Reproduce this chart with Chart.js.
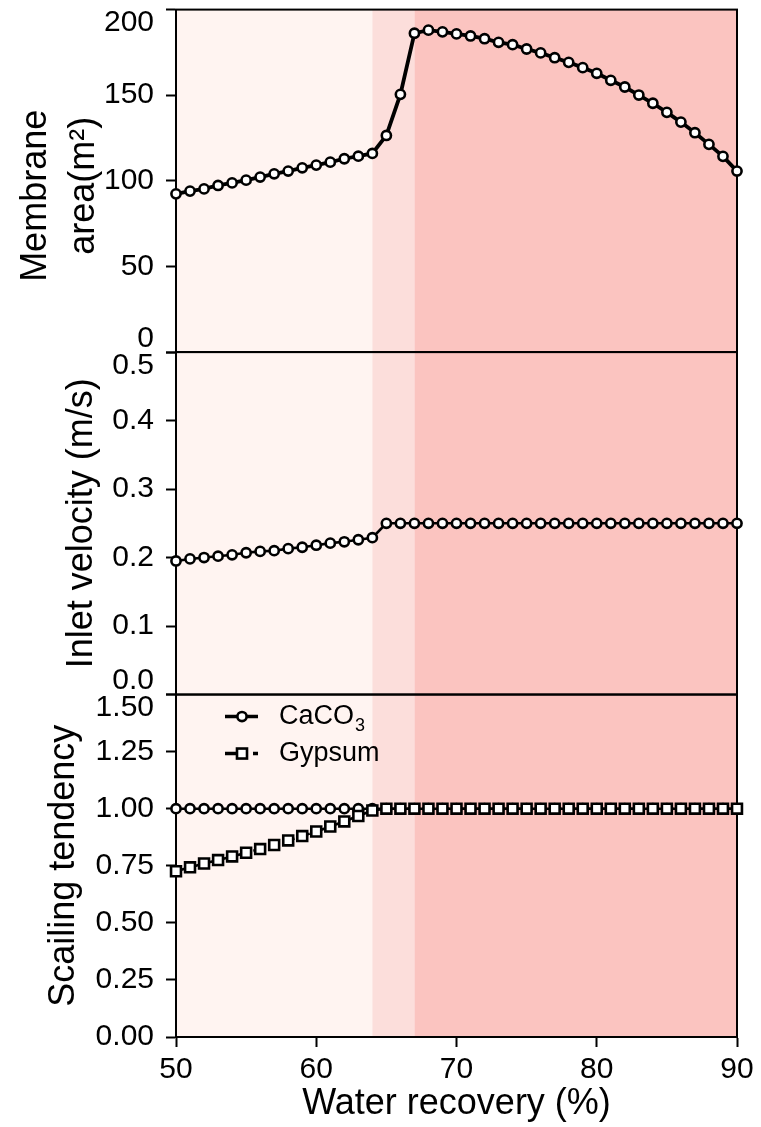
<!DOCTYPE html>
<html>
<head>
<meta charset="utf-8">
<script src="https://cdn.jsdelivr.net/npm/chart.js@4.4.1/dist/chart.umd.min.js"></script>
<style>
  html, body { margin: 0; padding: 0; background: #fff; }
  canvas { display: block; }
</style>
</head>
<body>
<canvas id="graficoRecuperacion" width="761" height="1127"></canvas>
<script>
// datos
const recuperacion = [50, 51, 52, 53, 54, 55, 56, 57, 58, 59, 60, 61, 62, 63, 64, 65, 66, 67, 68, 69, 70,
  71, 72, 73, 74, 75, 76, 77, 78, 79, 80, 81, 82, 83, 84, 85, 86, 87, 88, 89, 90];

const areaMembrana = [92.4, 94.0, 95.3, 97.3, 98.8, 100.4, 102.2, 104.1, 105.7, 107.6, 109.2, 110.9, 112.9, 114.4, 116.0,
  126.5, 150.5, 186.2, 188.0, 187.0, 185.8, 184.6, 183.0, 180.9, 179.5, 177.0, 174.7, 171.9, 169.2, 166.1,
  162.8, 158.7, 154.8, 150.1, 145.3, 140.0, 134.3, 128.1, 121.3, 114.3, 105.7];

const velocidadEntrada = [0.195, 0.198, 0.200, 0.202, 0.204, 0.207, 0.209, 0.210, 0.213, 0.215, 0.218, 0.221, 0.223, 0.226, 0.229,
  0.25, 0.25, 0.25, 0.25, 0.25, 0.25, 0.25, 0.25, 0.25, 0.25, 0.25, 0.25, 0.25, 0.25, 0.25,
  0.25, 0.25, 0.25, 0.25, 0.25, 0.25, 0.25, 0.25, 0.25, 0.25, 0.25];

const tendenciaCaCO3 = [1, 1, 1, 1, 1, 1, 1, 1, 1, 1, 1, 1, 1, 1, 1, 1, 1, 1, 1, 1, 1,
  1, 1, 1, 1, 1, 1, 1, 1, 1, 1, 1, 1, 1, 1, 1, 1, 1, 1, 1, 1];

const tendenciaYeso = [0.726, 0.743, 0.760, 0.775, 0.791, 0.807, 0.823, 0.841, 0.861, 0.880, 0.900, 0.922, 0.944, 0.968, 0.992,
  1, 1, 1, 1, 1, 1, 1, 1, 1, 1, 1, 1, 1, 1, 1,
  1, 1, 1, 1, 1, 1, 1, 1, 1, 1, 1];

// limites de las zonas sombreadas (recuperacion %)
const limitesZonas = [50, 64, 67, 90];

// ticks de cada eje
const ticksX = [50, 60, 70, 80, 90];
const ticksArea = [0, 50, 100, 150, 200];
const ticksVelocidad = [0, 0.1, 0.2, 0.3, 0.4, 0.5];
const ticksTendencia = [0, 0.25, 0.5, 0.75, 1, 1.25, 1.5];

const coloresZonas = ["#fff4f1", "#fcdedb", "#fbc4c0"];
const ANCHO_EJE_Y = 176;
const FUENTE = "'Liberation Sans', Arial, sans-serif";

Chart.defaults.font.family = FUENTE;
Chart.defaults.color = "#000";

const puntos = valores => recuperacion.map((x, i) => ({ x, y: valores[i] }));

function ejeY(ticks, decimales, titulo, paddingTitulo, moverMinimo) {
  return {
    type: "linear",
    position: "left",
    stack: "paneles",
    stackWeight: 1,
    min: ticks[0],
    max: ticks[ticks.length - 1],
    afterBuildTicks: eje => { eje.ticks = ticks.map(v => ({ value: v })); },
    afterFit: eje => {
      eje.width = ANCHO_EJE_Y;
      eje.paddingTop = 0;
      eje.paddingBottom = 0;
    },
    border: { display: true, color: "#000", width: 2 },
    grid: { drawOnChartArea: false, drawTicks: true, tickLength: 10, tickWidth: 2, tickColor: "#000" },
    ticks: {
      autoSkip: false,
      padding: 12,
      color: "#000",
      font: { size: 30, lineHeight: 0.9 },
      callback: v => {
        const txt = v.toFixed(decimales);
        // como en la figura: la etiqueta de arriba baja y la de abajo sube
        if (v === ticks[ticks.length - 1]) return ["", txt];
        if (v === ticks[0] && moverMinimo) return [txt, ""];
        return txt;
      }
    },
    title: {
      display: true,
      text: titulo,
      color: "#000",
      font: { size: 36, lineHeight: 1.33 },
      padding: { top: paddingTitulo, bottom: 0 }
    }
  };
}

// zonas de fondo
const zonasFondo = {
  id: "zonasFondo",
  beforeDraw(chart) {
    const { ctx, chartArea, scales } = chart;
    ctx.save();
    for (let i = 0; i < limitesZonas.length - 1; i++) {
      const x1 = scales.x.getPixelForValue(limitesZonas[i]);
      const x2 = scales.x.getPixelForValue(limitesZonas[i + 1]);
      ctx.fillStyle = coloresZonas[i];
      ctx.fillRect(x1, chartArea.top, x2 - x1, chartArea.bottom - chartArea.top);
    }
    ctx.restore();
  }
};

// marco de cada panel
const marcoPaneles = {
  id: "marcoPaneles",
  beforeDatasetsDraw(chart) {
    const { ctx, chartArea, scales } = chart;
    ctx.save();
    ctx.strokeStyle = "#000";
    ctx.lineWidth = 2;
    ["yArea", "yVel", "yTend"].forEach(id => {
      const e = scales[id];
      ctx.strokeRect(chartArea.left, e.top, chartArea.right - chartArea.left, e.bottom - e.top);
    });
    ctx.restore();
  }
};

// leyenda dentro del panel de abajo
const leyendaTendencia = {
  id: "leyendaTendencia",
  afterDatasetsDraw(chart) {
    const { ctx, chartArea, scales } = chart;
    const x0 = chartArea.left + 49;
    const filas = [scales.yTend.top + 22, scales.yTend.top + 59];
    ctx.save();
    ctx.strokeStyle = "#000";
    ctx.lineWidth = 3.5;

    // CaCO3
    ctx.beginPath();
    ctx.moveTo(x0, filas[0]);
    ctx.lineTo(x0 + 33, filas[0]);
    ctx.stroke();
    ctx.lineWidth = 2.6;
    ctx.fillStyle = "#fff";
    ctx.beginPath();
    ctx.arc(x0 + 17, filas[0], 4.6, 0, Math.PI * 2);
    ctx.fill();
    ctx.stroke();

    // Gypsum
    ctx.lineWidth = 3.5;
    ctx.setLineDash([11, 17]);
    ctx.beginPath();
    ctx.moveTo(x0, filas[1]);
    ctx.lineTo(x0 + 33, filas[1]);
    ctx.stroke();
    ctx.setLineDash([]);
    ctx.lineWidth = 2.6;
    ctx.fillRect(x0 + 12, filas[1] - 5, 10, 10);
    ctx.strokeRect(x0 + 12, filas[1] - 5, 10, 10);

    ctx.fillStyle = "#000";
    ctx.textBaseline = "middle";
    ctx.textAlign = "left";
    ctx.font = "27px " + FUENTE;
    ctx.fillText("CaCO", x0 + 54, filas[0]);
    const anchoCaCO = ctx.measureText("CaCO").width;
    ctx.fillText("Gypsum", x0 + 54, filas[1]);
    ctx.font = "18px " + FUENTE;
    ctx.fillText("3", x0 + 54 + anchoCaCO + 1, filas[0] + 9);
    ctx.restore();
  }
};

const estiloPunto = {
  borderColor: "#000",
  pointBorderColor: "#000",
  pointBackgroundColor: "#fff",
  pointBorderWidth: 2.6,
  pointRadius: 4.6,
  pointHoverRadius: 4.6,
  clip: false
};

new Chart(document.getElementById("graficoRecuperacion"), {
  type: "line",
  data: {
    datasets: [
      { ...estiloPunto, label: "Membrane area", data: puntos(areaMembrana), yAxisID: "yArea", borderWidth: 3.8 },
      { ...estiloPunto, label: "Inlet velocity", data: puntos(velocidadEntrada), yAxisID: "yVel", borderWidth: 2.6 },
      { ...estiloPunto, label: "Gypsum", data: puntos(tendenciaYeso), yAxisID: "yTend", borderWidth: 2.6,
        borderDash: [11, 5], pointStyle: "rect", pointRadius: 7, pointHoverRadius: 7 },
      { ...estiloPunto, label: "CaCO₃", data: puntos(tendenciaCaCO3), yAxisID: "yTend", borderWidth: 2.6 }
    ]
  },
  options: {
    responsive: false,
    animation: false,
    events: [],
    layout: { padding: { top: 7, right: 24, bottom: 0, left: 0 } },
    plugins: {
      legend: { display: false },
      tooltip: { enabled: false }
    },
    scales: {
      x: {
        type: "linear",
        min: 50,
        max: 90,
        afterBuildTicks: eje => { eje.ticks = ticksX.map(v => ({ value: v })); },
        afterFit: eje => {
          eje.height = 90;
          eje.paddingLeft = 0;
          eje.paddingRight = 0;
        },
        border: { display: true, color: "#000", width: 2 },
        grid: { drawOnChartArea: false, drawTicks: true, tickLength: 10, tickWidth: 2, tickColor: "#000" },
        ticks: { padding: 8, maxRotation: 0, color: "#000", font: { size: 30, lineHeight: 1 } },
        title: {
          display: true,
          text: "Water recovery (%)",
          color: "#000",
          font: { size: 36, lineHeight: 1 },
          padding: { top: 0, bottom: 5 }
        }
      },
      // el orden importa para apilar los ejes
      yTend: ejeY(ticksTendencia, 2, "Scailing tendency", 40, false),
      yVel: ejeY(ticksVelocidad, 1, "Inlet velocity (m/s)", 58, true),
      yArea: ejeY(ticksArea, 0, ["Membrane   ", "area(m²) "], 12, true)
    }
  },
  plugins: [zonasFondo, marcoPaneles, leyendaTendencia]
});
</script>
</body>
</html>
